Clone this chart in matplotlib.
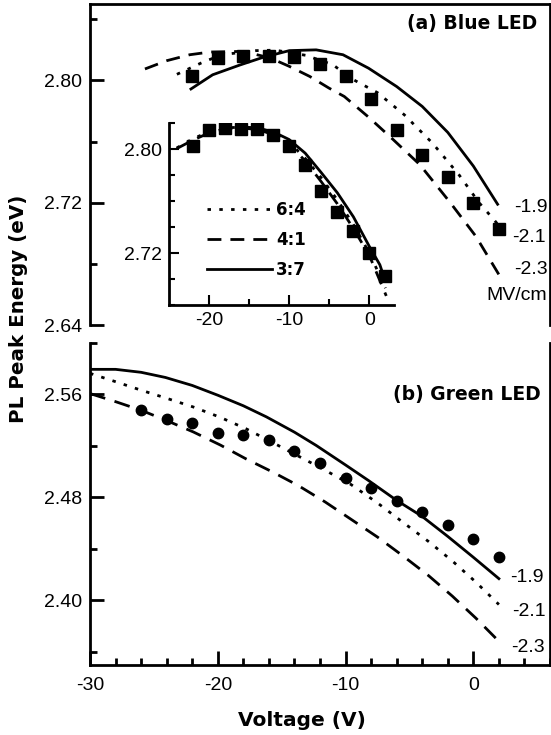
import matplotlib
matplotlib.use("Agg")
import matplotlib.pyplot as plt
from matplotlib.ticker import MultipleLocator, FixedLocator
from matplotlib.lines import Line2D

plt.rcParams['font.family'] = ['Liberation Sans', 'DejaVu Sans']
plt.rcParams['lines.scale_dashes'] = False

# ---------------- (a) Blue LED ----------------
blue_v = [-22, -20, -18, -16, -14, -12, -10, -8, -6, -4, -2, 0, 2]
blue_e = [2.8026, 2.8147, 2.8162, 2.8157, 2.8153, 2.8110, 2.8026, 2.7880,
          2.7677, 2.7513, 2.7371, 2.7201, 2.7027]

# calculated curves for three fields (MV/cm)
blue_f19_v = [-22.1, -20.4, -18.3, -16.5, -14.4, -12.3, -10.2, -8.2, -6.0, -4.0, -2.0, 0.0, 1.9]
blue_f19_e = [2.7944, 2.8037, 2.8100, 2.8150, 2.8195, 2.8200, 2.8168, 2.8080,
              2.7960, 2.7830, 2.7660, 2.7440, 2.7190]
blue_f21_v = [-23.2, -21.3, -19.7, -17.0, -15.5, -13.1, -11.0, -9.5, -7.5, -5.4,
              -3.2, -1.1, 0.45, 1.6, 2.4]
blue_f21_e = [2.8040, 2.8114, 2.8168, 2.8195, 2.8198, 2.8164, 2.8103, 2.8010,
              2.7920, 2.7775, 2.7590, 2.7380, 2.7200, 2.7090, 2.7010]
blue_f23_v = [-25.7, -24.0, -22.2, -20.6, -18.0, -15.9, -14.4, -12.8, -11.3, -10.1,
              -8.2, -6.3, -4.2, -1.8, 0.2, 2.0]
blue_f23_e = [2.8075, 2.8129, 2.8168, 2.8186, 2.8190, 2.8147, 2.8092, 2.8026,
              2.7950, 2.7895, 2.7760, 2.7615, 2.7450, 2.7200, 2.6980, 2.6730]

# inset: composition ratios
inset_64_v = [-24, -22, -20, -18, -16, -14, -12, -10, -8, -6, -4, -2, 0, 2]
inset_64_e = [2.8010, 2.8080, 2.8135, 2.8165, 2.8170, 2.8158, 2.8122, 2.8055,
              2.7930, 2.7780, 2.7610, 2.7420, 2.7200, 2.6930]
inset_41_v = [-24, -22, -20, -18, -16, -14, -12, -10, -8, -6, -4, -2, 0, 2.1]
inset_41_e = [2.8005, 2.8070, 2.8125, 2.8158, 2.8165, 2.8152, 2.8115, 2.8040,
              2.7910, 2.7750, 2.7580, 2.7390, 2.7180, 2.6870]
inset_37_v = [-16, -14, -12, -10, -8, -6, -4, -2, 0, 1.3, 1.9]
inset_37_e = [2.8172, 2.8165, 2.8135, 2.8075, 2.7970, 2.7820, 2.7665, 2.7480,
              2.7250, 2.7110, 2.7000]

# ---------------- (b) Green LED ----------------
green_v = [-26, -24, -22, -20, -18, -16, -14, -12, -10, -8, -6, -4, -2, 0, 2]
green_e = [2.5481, 2.5410, 2.5379, 2.5299, 2.5280, 2.5241, 2.5155, 2.5064,
           2.4950, 2.4869, 2.4773, 2.4682, 2.4585, 2.4474, 2.4339]

green_f19_v = [-30, -28, -26, -24.1, -22, -20, -18, -16.2, -14, -12.3, -10, -8.2,
               -6, -4, -2, 0, 2]
green_f19_e = [2.5793, 2.5793, 2.5770, 2.5730, 2.5668, 2.5592, 2.5510, 2.5424,
               2.5305, 2.5202, 2.5050, 2.4929, 2.4775, 2.4650, 2.4495, 2.4333, 2.4167]
green_f21_v = [-30, -28, -26, -24, -21.9, -19.8, -17.8, -16, -14, -11.8, -9.6,
               -7.5, -5.5, -3.5, -1.64, 0.2, 2.0]
green_f21_e = [2.5762, 2.5697, 2.5631, 2.5568, 2.5500, 2.5420, 2.5332, 2.5240,
               2.5135, 2.5020, 2.4900, 2.4755, 2.4604, 2.4455, 2.4304, 2.4140, 2.3966]
green_f23_v = [-30, -28, -26, -24, -21.9, -19.8, -17.8, -15.7, -13.7, -11.6, -9.6,
               -7.5, -5.5, -3.5, -1.64, 0.2, 2.0]
green_f23_e = [2.5605, 2.5542, 2.5475, 2.5395, 2.5306, 2.5205, 2.5098, 2.4995,
               2.4890, 2.4763, 2.4630, 2.4490, 2.4343, 2.4190, 2.4031, 2.3860, 2.3680]

field_labels = ['-1.9', '-2.1', '-2.3']
ratio_labels = ['6:4', '4:1', '3:7']

W, H = 551, 735
fig = plt.figure(figsize=(W / 100, H / 100), dpi=100)


def fx(px):
    return px / W


def fy(py):
    return 1 - py / H


DOT = (0, (2.5, 6.0))
DASH = (0, (10.0, 6.5))
LW = 2.0
TICKFS = 14

ax_a = fig.add_axes([fx(90), fy(325), fx(550) - fx(90), fy(4) - fy(325)])
ax_b = fig.add_axes([fx(90), fy(664.5), fx(550) - fx(90), fy(342.7) - fy(664.5)])
ax_in = fig.add_axes([fx(168.7), fy(305), fx(393.5) - fx(168.7), fy(123.3) - fy(305)])

for ax in (ax_a, ax_b, ax_in):
    for s in ax.spines.values():
        s.set_linewidth(2.0)

# panel (a)
ax_a.plot(blue_f19_v, blue_f19_e, color='black', lw=LW, ls='-')
ax_a.plot(blue_f21_v, blue_f21_e, color='black', lw=LW, ls=DOT)
ax_a.plot(blue_f23_v, blue_f23_e, color='black', lw=LW, ls=DASH)
ax_a.plot(blue_v, blue_e, ls='none', marker='s', ms=8.5, color='black')
ax_a.set_xlim(-30, 6)
ax_a.set_ylim(2.64, 2.85)
ax_a.spines['bottom'].set_visible(False)
ax_a.yaxis.set_major_locator(FixedLocator([2.64, 2.72, 2.80]))
ax_a.yaxis.set_minor_locator(FixedLocator([2.68, 2.76, 2.84]))
ax_a.set_yticklabels(['2.64', '2.72', '2.80'])
ax_a.tick_params(axis='y', which='major', direction='in', length=10, width=2,
                 labelsize=TICKFS, pad=6)
ax_a.tick_params(axis='y', which='minor', direction='in', length=5, width=2)
ax_a.tick_params(axis='x', which='both', bottom=False, labelbottom=False)

# inset
ax_in.patch.set_alpha(0)
ax_in.plot(inset_37_v, inset_37_e, color='black', lw=LW, ls='-')
ax_in.plot(inset_64_v, inset_64_e, color='black', lw=LW, ls=DOT)
ax_in.plot(inset_41_v, inset_41_e, color='black', lw=LW, ls=DASH)
ax_in.plot(blue_v, blue_e, ls='none', marker='s', ms=8.5, color='black')
ax_in.set_xlim(-25, 3)
ax_in.set_ylim(2.68, 2.82)
ax_in.spines['top'].set_visible(False)
ax_in.spines['right'].set_visible(False)
ax_in.yaxis.set_major_locator(FixedLocator([2.72, 2.80]))
ax_in.yaxis.set_minor_locator(MultipleLocator(0.02))
ax_in.set_yticklabels(['2.72', '2.80'])
ax_in.xaxis.set_major_locator(FixedLocator([-20, -10, 0]))
ax_in.xaxis.set_minor_locator(FixedLocator([-15, -5]))
ax_in.set_xticklabels(['-20', '-10', '0'])
ax_in.tick_params(which='major', direction='in', length=7, width=1.5,
                  labelsize=TICKFS, pad=5)
ax_in.tick_params(which='minor', direction='in', length=4, width=1.5)

handles = [Line2D([], [], color='black', lw=LW, ls=DOT),
           Line2D([], [], color='black', lw=LW, ls=DASH),
           Line2D([], [], color='black', lw=LW, ls='-')]
leg = ax_in.legend(handles, ratio_labels, loc='upper left',
                   bbox_to_anchor=(fx(207), fy(201)), bbox_transform=fig.transFigure,
                   frameon=False, borderpad=0, borderaxespad=0,
                   handlelength=3.9, handletextpad=0.25, labelspacing=0.72,
                   prop={'family': 'DejaVu Sans', 'weight': 'bold', 'size': 12})

# panel (b)
ax_b.plot(green_f19_v, green_f19_e, color='black', lw=LW, ls='-')
ax_b.plot(green_f21_v, green_f21_e, color='black', lw=LW, ls=DOT)
ax_b.plot(green_f23_v, green_f23_e, color='black', lw=LW, ls=(0, (11.5, 7.0)))
ax_b.plot(green_v, green_e, ls='none', marker='o', ms=7.5, color='black')
ax_b.set_xlim(-30, 6)
ax_b.set_ylim(2.35, 2.60)
ax_b.spines['top'].set_visible(False)
ax_b.yaxis.set_major_locator(FixedLocator([2.40, 2.48, 2.56]))
ax_b.yaxis.set_minor_locator(FixedLocator([2.36, 2.44, 2.52, 2.60]))
ax_b.set_yticklabels(['2.40', '2.48', '2.56'])
ax_b.xaxis.set_major_locator(FixedLocator([-30, -20, -10, 0]))
ax_b.xaxis.set_minor_locator(MultipleLocator(2))
ax_b.set_xticklabels(['-30', '-20', '-10', '0'])
ax_b.tick_params(which='major', direction='in', length=10, width=2,
                 labelsize=TICKFS, pad=6)
ax_b.tick_params(axis='x', which='major', pad=9)
ax_b.tick_params(which='minor', direction='in', length=5, width=2)
ax_b.tick_params(axis='y', which='both', right=False)
ax_b.tick_params(axis='x', which='both', top=False)

# annotations
bold = dict(family='DejaVu Sans', weight='bold')
fig.text(fx(537), fy(24), '(a) Blue LED', ha='right', va='center', fontsize=13.5, **bold)
fig.text(fx(541), fy(394.5), '(b) Green LED', ha='right', va='center', fontsize=13.5, **bold)

for lab, px, py in zip(field_labels, [514, 512, 514], [207, 238, 270]):
    fig.text(fx(px), fy(py), lab, ha='left', va='center', fontsize=TICKFS)
fig.text(fx(547), fy(296), 'MV/cm', ha='right', va='center', fontsize=TICKFS)
for lab, px, py in zip(field_labels, [510, 512.5, 511], [577, 612, 647]):
    fig.text(fx(px), fy(py), lab, ha='left', va='center', fontsize=TICKFS)

fig.text(fx(19), fy(308.5), 'PL Peak Energy (eV)', rotation=90, ha='center', va='center',
         fontsize=14.3, **bold)
fig.text(fx(302), fy(720), 'Voltage (V)', ha='center', va='center', fontsize=14.5, **bold)

fig.savefig('out.png', dpi=100)
